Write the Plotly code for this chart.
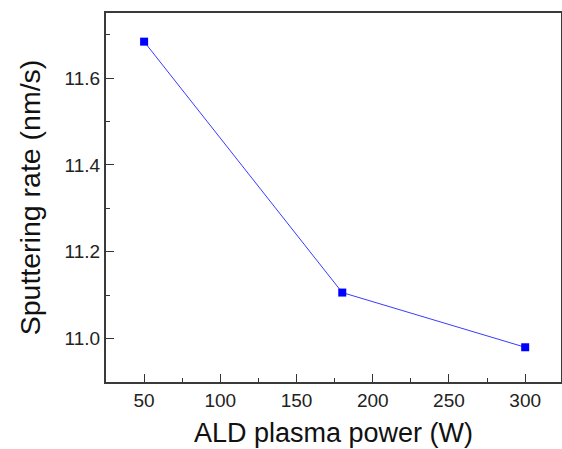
import plotly.graph_objects as go

power = [50, 180, 300]
rate = [11.684, 11.106, 10.98]
x_ticks = [50, 100, 150, 200, 250, 300]
y_ticks = [11.0, 11.2, 11.4, 11.6]

fig = go.Figure()
fig.add_trace(go.Scatter(
    x=power, y=rate, mode="lines+markers",
    line=dict(color="#3a3aff", width=1),
    marker=dict(symbol="square", size=8, color="#0000ff"),
    showlegend=False,
))

FONT = "Liberation Sans, Arial, sans-serif"
axis_common = dict(
    showline=True, linecolor="#3a3a3a", linewidth=2, mirror=True,
    ticks="inside", ticklen=8, tickwidth=1.3, tickcolor="#333333",
    showgrid=False, zeroline=False, automargin=False,
    tickfont=dict(family=FONT, size=19, color="#222222"),
)

fig.update_xaxes(
    range=[25, 323.5], tickvals=x_ticks, ticktext=[str(v) for v in x_ticks],
    minor=dict(ticks="inside", ticklen=4, tickcolor="#333333", dtick=25, tick0=25),
    title_text="ALD plasma power (W)", title_standoff=13,
    title_font=dict(family=FONT, size=27, color="#111111"),
    **axis_common,
)
fig.update_yaxes(
    range=[10.9, 11.75], tickvals=y_ticks, ticktext=[f"{v:.1f}" for v in y_ticks],
    minor=dict(ticks="inside", ticklen=4, tickcolor="#333333", dtick=0.1, tick0=10.9),
    title_text="Sputtering rate (nm/s)", title_standoff=16,
    title_font=dict(family=FONT, size=28.5, color="#111111"),
    **axis_common,
)

fig.update_layout(
    width=562, height=449,
    margin=dict(l=106, r=1, t=13, b=67),
    paper_bgcolor="white", plot_bgcolor="white",
)

fig.write_html(
    "out.html",
    config={"displayModeBar": False},
    post_script="document.body.style.margin='0';document.body.style.overflow='hidden';",
)
